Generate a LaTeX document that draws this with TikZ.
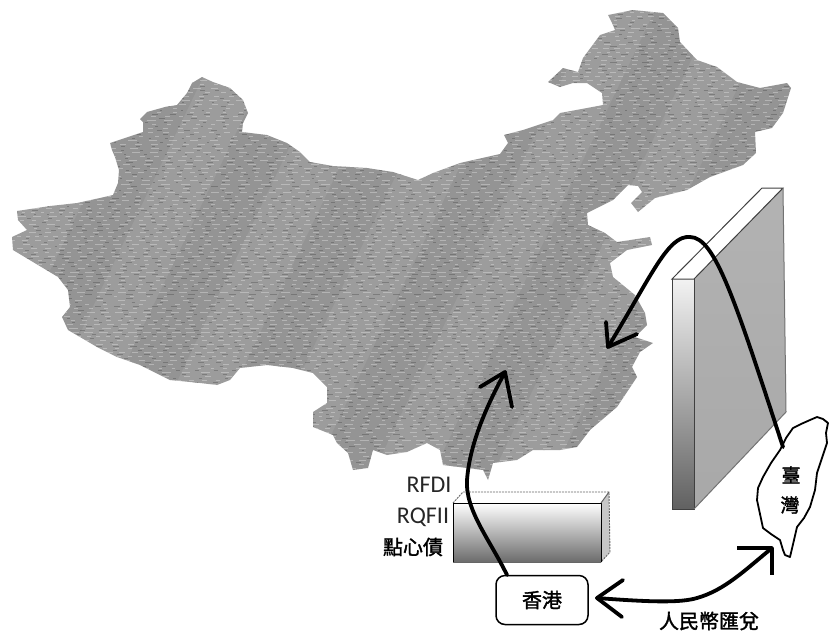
\documentclass[tikz,border=0pt]{standalone}
\usepackage{fontspec}
\setmainfont{Carlito}
\newfontfamily\cjk{Noto Sans CJK TC}[FakeBold=1.6]
\definecolor{mapgray}{HTML}{9C9C9C}
\tikzset{
  wallline/.style={draw=black!75,line width=1pt},
  flow/.style={draw=black,line width=3.8pt,line cap=round,line join=round},
  cjklabel/.style={font=\cjk\fontsize{19}{19}\selectfont,inner sep=0pt},
  latlabel/.style={font=\fontsize{24}{24}\selectfont,text=black!85,inner sep=0pt},
  placebox/.style={draw=black,line width=1.5pt,rounded corners=9pt,fill=white,minimum width=92pt,minimum height=49pt,inner sep=0pt},
  taiwanline/.style={draw=black,line width=1.8pt,fill=white,line join=round}
}
\def\chinapath{(17,211) -- (50,206) -- (77,203) -- (100,198) -- (113,195) -- (118,183) -- (119,170) -- (115,157) -- (112,150) -- (110,143) -- (125,138) -- (143,132) -- (143,122) -- (140,119) -- (147,112) -- (165,107) -- (177,105) -- (187,93) -- (192,83) -- (202,77) -- (213,82) -- (230,88) -- (243,100) -- (248,113) -- (243,123) -- (242,132) -- (267,135) -- (287,143) -- (300,152) -- (310,162) -- (333,166) -- (367,168) -- (393,172) -- (418,180) -- (433,173) -- (460,163) -- (500,154) -- (508,143) -- (504,135) -- (523,130) -- (553,120) -- (560,113) -- (587,108) -- (603,105) -- (602,93) -- (587,83) -- (573,83) -- (560,87) -- (548,82) -- (563,68) -- (578,72) -- (583,58) -- (600,35) -- (615,30) -- (612,23) -- (608,15) -- (633,10) -- (663,13) -- (678,28) -- (680,42) -- (697,60) -- (717,67) -- (737,82) -- (760,88) -- (787,83) -- (791,88) -- (783,113) -- (772,128) -- (755,132) -- (756,153) -- (743,165) -- (710,177) -- (687,190) -- (655,198) -- (638,212) -- (631,203) -- (642,192) -- (638,186) -- (628,185) -- (613,200) -- (587,213) -- (588,225) -- (605,233) -- (617,242) -- (650,237) -- (652,245) -- (627,250) -- (610,263) -- (613,277) -- (635,295) -- (645,313) -- (647,325) -- (635,337) -- (653,343) -- (640,352) -- (632,367) -- (637,377) -- (617,407) -- (590,430) -- (577,447) -- (560,450) -- (533,450) -- (517,460) -- (493,463) -- (488,480) -- (483,470) -- (467,468) -- (443,465) -- (440,450) -- (427,443) -- (407,452) -- (387,455) -- (373,450) -- (368,468) -- (353,470) -- (348,453) -- (337,443) -- (333,435) -- (313,427) -- (313,412) -- (327,403) -- (327,387) -- (313,373) -- (293,368) -- (267,365) -- (240,368) -- (230,380) -- (217,385) -- (200,383) -- (170,380) -- (140,365) -- (117,357) -- (97,347) -- (68,330) -- (62,317) -- (70,307) -- (68,290) -- (58,277) -- (43,268) -- (13,250) -- (12,237) -- (27,230) -- (18,220) -- cycle}
\begin{document}
\begin{tikzpicture}[x=1pt,y=-1pt]
\useasboundingbox (0,0) rectangle (835,633);
% map with dithered texture
\pgfmathsetseed{7}
\begin{scope}
  \clip \chinapath;
  \fill[mapgray] (0,0) rectangle (835,520);
  \foreach \x in {-300,-180,...,900} {\fill[black,opacity=.05] (\x,0) -- (\x+60,0) -- (\x-180,500) -- (\x-240,500) -- cycle;}
  \foreach \y in {6,10,...,490} {
    \pgfmathsetmacro{\pa}{2+5*rnd}\pgfmathsetmacro{\pb}{10+16*rnd}\pgfmathsetmacro{\pc}{40*rnd}
    \draw[black,opacity=.2,line width=.7pt,dash pattern=on \pa pt off \pb pt,dash phase=\pc pt] (0,\y) -- (835,\y);
  }
  \foreach \y in {8,12,...,490} {
    \pgfmathsetmacro{\pa}{3+6*rnd}\pgfmathsetmacro{\pb}{5+10*rnd}\pgfmathsetmacro{\pc}{40*rnd}
    \draw[white,opacity=.3,line width=.9pt,dash pattern=on \pa pt off \pb pt,dash phase=\pc pt] (0,\y) -- (835,\y);
  }
\end{scope}
% wall
\coordinate (wa) at (672,279); \coordinate (wb) at (694,279);
\coordinate (wc) at (694,509); \coordinate (wd) at (672,509);
\coordinate (we) at (762,188); \coordinate (wf) at (783,188);
\coordinate (wg) at (786,412);
\fill[white] (wa) -- (we) -- (wf) -- (wb) -- cycle;
\shade[top color=black!30,middle color=black!24,bottom color=black!34] (wb) -- (wf) -- (wg) -- (wc) -- cycle;
\shade[top color=black!5,middle color=black!22,bottom color=black!62] (wa) rectangle (wc);
\draw[wallline] (wa) -- (we) -- (wf) -- (wb) -- cycle;
\draw[wallline] (wa) -- (wd) -- (wc) -- (wb);
\draw[draw=black!55,line width=1pt] (wf) -- (wg) -- (wc);
% Hong Kong box
\coordinate (ba) at (453,503); \coordinate (bb) at (601,503);
\coordinate (bc) at (601,562); \coordinate (bd) at (453,562);
\coordinate (be) at (463,492); \coordinate (bf) at (609,492);
\coordinate (bg) at (610,552);
\fill[white] (ba) -- (be) -- (bf) -- (bb) -- cycle;
\fill[black!22] (bb) -- (bf) -- (bg) -- (bc) -- cycle;
\shade[top color=white,middle color=black!22,bottom color=black!58] (ba) rectangle (bc);
\draw[draw=black!60,line width=.9pt,dash pattern=on 2pt off 1pt] (ba) -- (be) -- (bf) -- (bg) -- (bc);
\draw[draw=black,line width=1pt] (bd) -- (ba) -- (bb) -- (bc);
\draw[draw=black!60,line width=1pt] (bf) -- (bb);
\draw[draw=black!60,line width=1pt] (bd) -- (bc);
% Taiwan
\draw[taiwanline] (817,417) -- (823,419) -- (828,423) -- (826,433) -- (827,443) -- (822,458) -- (817,473) -- (815,490) -- (810,507) -- (804,518) -- (797,527) -- (794,540) -- (790,557) -- (785,555) -- (783,550) -- (780,540) -- (771,534) -- (763,528) -- (760,514) -- (757,500) -- (758,488) -- (763,477) -- (771,463) -- (780,450) -- (786,438) -- (793,428) -- (801,424) -- (810,420) -- cycle;
\node[cjklabel] (tai) at (791,475) {臺};
\node[cjklabel] (wan) at (790,505) {灣};
% Hong Kong node
\node[placebox,font=\cjk\fontsize{20}{20}\selectfont] (hk) at (542,600) {香港};
% labels
\node[latlabel] (rfdi) at (429,485) {RFDI};
\node[latlabel] (rqfii) at (423,517) {RQFII};
\node[cjklabel,font=\cjk\fontsize{20}{20}\selectfont] (dim) at (413,547) {點心債};
\node[cjklabel,font=\cjk\fontsize{20}{20}\selectfont] (rmb) at (709,621) {人民幣匯兌};
% connectors
\coordinate (twtop) at (783,447);
\coordinate (peak) at (690,237);
\coordinate (tipsh) at (608,347);
\coordinate (tipsa) at (606,322);
\coordinate (tipsb) at (637,334);
\draw[flow] (twtop) .. controls (735,300) and (715,237) .. (peak) .. controls (668,235) and (652,275) .. (tipsh);
\draw[flow] (tipsa) -- (tipsh) -- (tipsb);
\coordinate (hktop) at (507,575);
\coordinate (tipma) at (505,372);
\coordinate (tipmb) at (480,387);
\coordinate (tipmc) at (512,407);
\draw[flow] (hktop) .. controls (490,540) and (465,510) .. (467,480) .. controls (470,440) and (490,400) .. (tipma);
\draw[flow] (tipmb) -- (tipma) -- (tipmc);
\coordinate (tipl) at (597,598);
\coordinate (tipla) at (623,580);
\coordinate (tiplb) at (622,617);
\coordinate (tipr) at (772,548);
\coordinate (tipra) at (737,548);
\coordinate (tiprb) at (772,575);
\draw[flow] (tipl) .. controls (650,602) and (680,603) .. (697,598) .. controls (725,590) and (745,570) .. (tipr);
\draw[flow] (tipla) -- (tipl) -- (tiplb);
\draw[flow,line cap=butt] (tipra) -- (tipr) -- (tiprb);
\end{tikzpicture}
\end{document}
